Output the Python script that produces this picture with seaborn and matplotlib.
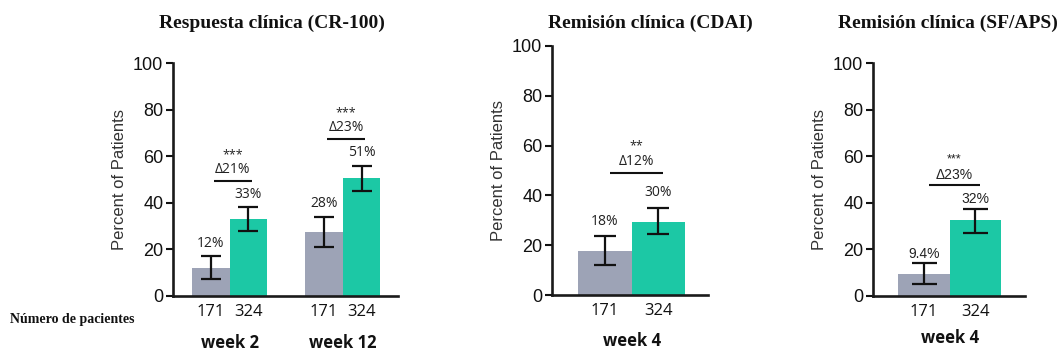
import numpy as np
import pandas as pd
import seaborn as sns
import matplotlib.pyplot as plt

sns.set_style('ticks')
plt.rcParams['font.family'] = ['Liberation Sans', 'DejaVu Sans']

# colours of the two arms
palette = ['#9DA3B6', '#1CC8A5']
n_patients = ['171', '324']

# Respuesta clinica (CR-100)
cr_weeks = ['week 2', 'week 12']
cr_pbo = [12, 27.5]
cr_act = [33, 50.5]
cr_pbo_lo, cr_pbo_hi = [7.5, 21], [17, 34]
cr_act_lo, cr_act_hi = [28, 45], [38, 56]
cr_pbo_lab = ['12%', '28%']
cr_act_lab = ['33%', '51%']
cr_delta = ['Δ21%', 'Δ23%']
cr_stars = ['***', '***']

# Remision clinica (CDAI)
cdai_weeks = ['week 4']
cdai_pbo = [17.5]
cdai_act = [29.5]
cdai_pbo_lo, cdai_pbo_hi = [12], [23.5]
cdai_act_lo, cdai_act_hi = [24.5], [35]
cdai_pbo_lab = ['18%']
cdai_act_lab = ['30%']
cdai_delta = ['Δ12%']
cdai_stars = ['**']

# Remision clinica (SF/APS)
sf_weeks = ['week 4']
sf_pbo = [9.4]
sf_act = [32.5]
sf_pbo_lo, sf_pbo_hi = [5], [14]
sf_act_lo, sf_act_hi = [27], [37.5]
sf_pbo_lab = ['9.4%']
sf_act_lab = ['32%']
sf_delta = ['Δ23%']
sf_stars = ['***']

W, H = 1062, 354
fig = plt.figure(figsize=(W / 100, H / 100), dpi=100)


def rect(l, r, t, b):
    return [l / W, 1 - b / H, (r - l) / W, (b - t) / H]


def panel(box, xmax, weeks, pbo, act, lo, hi, labs, deltas, stars,
          lab_off, br_off, ann_font, capsize, week_off):
    ax = fig.add_axes(box)
    df = pd.DataFrame({'week': weeks * 2,
                       'pct': pbo + act,
                       'n': [n_patients[0]] * len(weeks) + [n_patients[1]] * len(weeks)})
    sns.barplot(data=df, x='week', y='pct', hue='n', hue_order=n_patients,
                palette=palette, width=0.67, saturation=1, errorbar=None,
                legend=False, ax=ax, zorder=2, linewidth=0)
    bars = list(ax.containers)
    centers = []
    for k, cont in enumerate(bars):
        xs = [p.get_x() + p.get_width() / 2 for p in cont.patches]
        ys = np.array([p.get_height() for p in cont.patches])
        lo_k, hi_k = np.array(lo[k]), np.array(hi[k])
        ax.errorbar(xs, ys, yerr=[ys - lo_k, hi_k - ys], fmt='none', ecolor='#111111',
                    elinewidth=1.6, capsize=capsize, capthick=1.6, zorder=3)
        for x, h, s in zip(xs, hi_k, labs[k]):
            ax.text(x, h + lab_off, s, ha='center', va='bottom', fontsize=10,
                    family=ann_font, color='#222222')
        centers.append(xs)
    # significance brackets
    for i in range(len(weeks)):
        x0, x1 = centers[0][i], centers[1][i]
        top = max(hi[0][i], hi[1][i]) + br_off
        ax.plot([x0 + 0.03, x1 + 0.03], [top, top], color='#111111', lw=1.5,
                solid_capstyle='butt')
        ax.text((x0 + x1) / 2 + 0.03, top + 1.5, deltas[i], ha='center', va='bottom',
                fontsize=10, family=ann_font, color='#222222')
        ax.text((x0 + x1) / 2 + 0.03, top + 8.5, stars[i], ha='center', va='bottom',
                fontsize=9, family=ann_font, color='#222222')
        ax.annotate(weeks[i], xy=((x0 + x1) / 2, 0), xycoords=('data', 'axes fraction'),
                    xytext=(0, week_off), textcoords='offset points', ha='center',
                    va='center', fontsize=12, fontweight='bold', family='Open Sans',
                    color='#111111')
    ax.set_xlim(-0.5, xmax)
    ax.set_ylim(0, 100)
    ax.set_yticks([0, 20, 40, 60, 80, 100])
    ax.set_xticks(centers[0] + centers[1])
    ax.set_xticklabels([n_patients[0]] * len(weeks) + [n_patients[1]] * len(weeks),
                       fontsize=12, family='Open Sans', color='#111111')
    ax.tick_params(axis='x', length=0, pad=6)
    ax.tick_params(axis='y', length=5, width=1.5, labelsize=13, colors='#111111', pad=2)
    ax.set_xlabel('')
    ax.set_ylabel('Percent of Patients', fontsize=12, color='#333333', labelpad=4)
    for s in ['left', 'bottom']:
        ax.spines[s].set_linewidth(1.9)
        ax.spines[s].set_color('#1a1a1a')
    sns.despine(ax=ax)
    return ax


panel(rect(173, 398, 63, 296), 1.49, cr_weeks, cr_pbo, cr_act,
      [cr_pbo_lo, cr_act_lo], [cr_pbo_hi, cr_act_hi], [cr_pbo_lab, cr_act_lab],
      cr_delta, cr_stars, 2.5, 11.5, 'Open Sans', 7, -34)
panel(rect(552, 708, 46, 295), 0.48, cdai_weeks, cdai_pbo, cdai_act,
      [cdai_pbo_lo, cdai_act_lo], [cdai_pbo_hi, cdai_act_hi], [cdai_pbo_lab, cdai_act_lab],
      cdai_delta, cdai_stars, 3.0, 14, 'Open Sans', 8, -33)
panel(rect(873, 1025, 63, 296), 0.49, sf_weeks, sf_pbo, sf_act,
      [sf_pbo_lo, sf_act_lo], [sf_pbo_hi, sf_act_hi], [sf_pbo_lab, sf_act_lab],
      sf_delta, sf_stars, 1.0, 10, 'Liberation Sans', 9, -30)

titles = ['Respuesta clínica (CR-100)', 'Remisión clínica (CDAI)', 'Remisión clínica (SF/APS)']
title_x = [272, 650, 948]
for t, x in zip(titles, title_x):
    fig.text(x / W, 1 - 23 / H, t, ha='center', va='center', fontsize=14,
             fontweight='bold', family='Liberation Serif', color='#111111')
fig.text(10 / W, 1 - 320 / H, 'Número de pacientes', ha='left', va='center',
         fontsize=10, fontweight='bold', family='Liberation Serif', color='#111111')

fig.savefig('out.png', dpi=100)
